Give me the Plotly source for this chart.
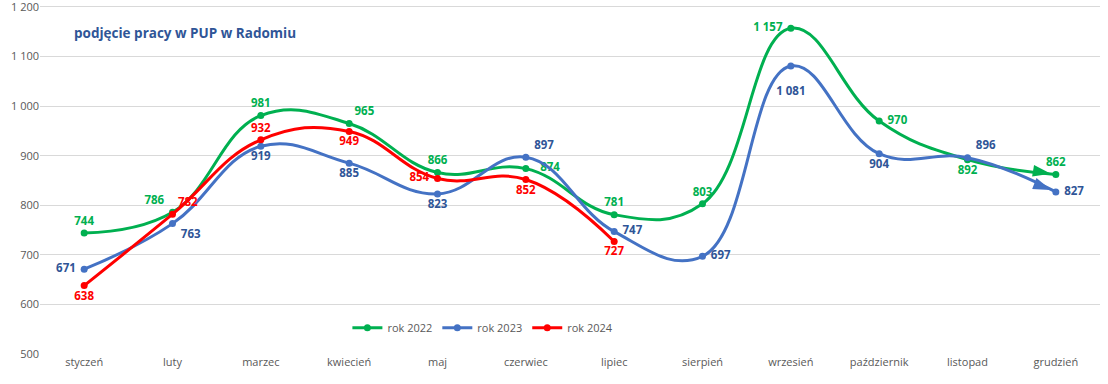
import plotly.graph_objects as go

months = ["styczeń", "luty", "marzec", "kwiecień", "maj", "czerwiec", "lipiec",
          "sierpień", "wrzesień", "październik", "listopad", "grudzień"]
y2022 = [744, 786, 981, 965, 866, 874, 781, 803, 1157, 970, 892, 862]
y2023 = [671, 763, 919, 885, 823, 897, 747, 697, 1081, 904, 896, 827]
y2024 = [638, 782, 932, 949, 854, 852, 727]

pos2022 = ["top center", "top left", "top center", "top right", "top center", "middle right",
           "top center", "top center", "middle left", "middle right", "bottom center", "top center"]
pos2023 = ["middle left", "bottom right", "bottom center", "bottom center", "bottom center", "top right",
           "middle right", "middle right", "bottom center", "bottom center", "top right", "middle right"]
pos2024 = ["bottom center", "top right", "top center", "bottom center", "middle left", "bottom center",
           "bottom center"]
# extra horizontal padding (in spaces) for a few labels
pad2022 = [0, 1, 0, 0, 0, 3, 0, 0, 1, 1, 0, 0]
pad2023 = [1, 1, 0, 0, 0, 1, 1, 1, 0, 0, 1, 1]
pad2024 = [0, 0, 0, 0, 1, 0, 0]
# labels pushed one extra line away from their point
far2023 = [False] * 8 + [True] + [False] * 3

GREEN = "#00B050"
BLUE = "#4472C4"
BLUE_TXT = "#2F5597"
RED = "#FF0000"
FONT = "Open Sans"
NB = "\u00a0"

fig = go.Figure()


def templates(positions, pads, far=None):
    out = []
    far = far or [False] * len(positions)
    for p, n, f in zip(positions, pads, far):
        if p.endswith("left"):
            t = "%{y:,}" + NB * n
        elif p.endswith("right"):
            t = NB * n + "%{y:,}"
        else:
            t = "%{y:,}"
        if f:
            t = (NB + "<br>" + t) if p.startswith("bottom") else (t + "<br>" + NB)
        out.append(t)
    return out


def add_series(name, ys, color, txtcolor, positions, pads, arrow, far=None):
    xs = months[:len(ys)]
    fig.add_trace(go.Scatter(
        x=xs, y=ys, name=name, mode="lines+markers+text",
        line=dict(color=color, width=3, shape="spline", smoothing=1.2),
        marker=dict(color=color, size=7, symbol="circle"),
        text=ys, texttemplate=templates(positions, pads, far), textposition=positions,
        textfont=dict(color=txtcolor, size=11.5, family=FONT, weight="bold"),
        cliponaxis=False,
    ))
    if arrow:
        fig.add_trace(go.Scatter(
            x=xs[-2:], y=ys[-2:], mode="markers", showlegend=False, hoverinfo="skip",
            marker=dict(color=color, size=[0, 19], symbol=["circle", "arrow"], opacity=1,
                        line=dict(width=0), angleref="previous", standoff=[0, 5]),
            cliponaxis=False,
        ))


add_series("rok 2022", y2022, GREEN, GREEN, pos2022, pad2022, True)
add_series("rok 2023", y2023, BLUE, BLUE_TXT, pos2023, pad2023, True, far2023)
add_series("rok 2024", y2024, RED, RED, pos2024, pad2024, False)

fig.add_annotation(
    text="podjęcie pracy w PUP w Radomiu", xref="paper", yref="paper",
    x=0.03, y=0.92, xanchor="left", yanchor="middle", showarrow=False,
    font=dict(family=FONT, size=13.5, color=BLUE_TXT, weight="bold"),
)

fig.update_layout(
    width=1108, height=384,
    margin=dict(l=40, r=8, t=5, b=30, autoexpand=False),
    paper_bgcolor="white", plot_bgcolor="white",
    separators=", ",
    font=dict(family=FONT, size=11, color="#595959"),
    showlegend=True,
    legend=dict(orientation="h", x=0.29, xanchor="left", y=0.075, yanchor="middle",
                font=dict(size=11, color="#595959"), bgcolor="rgba(0,0,0,0)"),
    xaxis=dict(type="category", showgrid=False, showline=False, ticks="", automargin=False,
               tickfont=dict(size=11, color="#595959"), range=[-0.5, 11.5]),
    yaxis=dict(range=[500, 1204], tickvals=[500, 600, 700, 800, 900, 1000, 1100, 1200],
               tickformat=",d", showgrid=True, ticklabeloverflow="allow", automargin=False,
               gridcolor="#D9D9D9", gridwidth=1, zeroline=False, showline=False,
               tickfont=dict(size=11, color="#595959")),
)

fig.write_html("out.html", config={"displayModeBar": False},
               post_script="document.body.style.margin='0';")
